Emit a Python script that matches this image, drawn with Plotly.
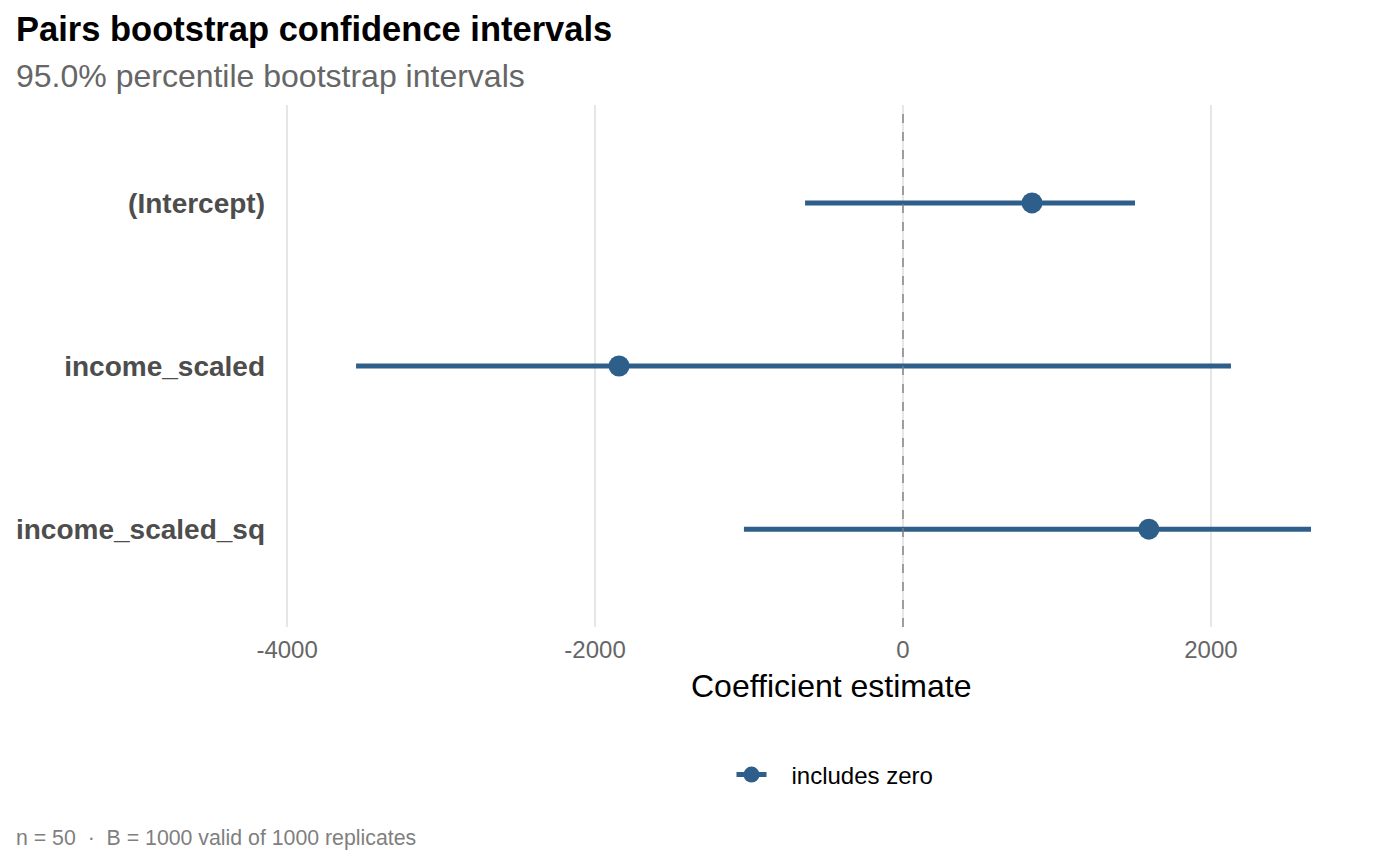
import plotly.graph_objects as go

# values
TERMS = ["(Intercept)", "income_scaled", "income_scaled_sq"]
ESTIMATE = [838, -1844, 1597]
CI_LOW = [-636, -3552, -1033]
CI_HIGH = [1507, 2130, 2650]
X_TICKS = [-4000, -2000, 0, 2000]

TITLE = "Pairs bootstrap confidence intervals"
SUBTITLE = "95.0% percentile bootstrap intervals"
CAPTION = "n = 50 \u00a0\u00b7\u00a0 B = 1000 valid of 1000 replicates"
LEGEND_LABEL = "\u00a0\u00a0\u00a0includes zero"

# some hard coded layout numbers (pixels in the 1400x866 picture)
# the page puts the figure 8 px in from the top left corner
OFF = 8
W, H = 1400, 866
PLOT_L, PLOT_R, PLOT_T, PLOT_B = 272 - OFF, 1382 - OFF, 105 - OFF, 627 - OFF
X_RANGE = [-4098, 3111]
COLOR = "#2E5E8A"
FONT = "Liberation Sans, Arial, sans-serif"


def px_x(px):
    return (px - OFF - PLOT_L) / (PLOT_R - PLOT_L)


def px_y(py):
    return (PLOT_B - (py - OFF)) / (PLOT_B - PLOT_T)


# segments of the intervals, separated with None
seg_x, seg_y = [], []
for term, lo, hi in zip(TERMS, CI_LOW, CI_HIGH):
    seg_x += [lo, hi, None]
    seg_y += [term, term, None]

fig = go.Figure()
fig.add_trace(go.Scatter(x=seg_x, y=seg_y, mode="lines", line=dict(color=COLOR, width=5),
                         showlegend=False, hoverinfo="skip"))
fig.add_trace(go.Scatter(x=ESTIMATE, y=TERMS, mode="markers", marker=dict(color=COLOR, size=21),
                         showlegend=False))
# legend entry only
fig.add_trace(go.Scatter(x=[None], y=[None], mode="lines+markers", name=LEGEND_LABEL,
                         line=dict(color=COLOR, width=5), marker=dict(color=COLOR, size=20)))

fig.add_vline(x=0, line=dict(color="#7F7F7F", width=1.4, dash="dash"))

fig.update_xaxes(range=X_RANGE, tickvals=X_TICKS, ticktext=[str(v) for v in X_TICKS],
                 showgrid=True, gridcolor="#E6E6E6", gridwidth=1.5, zeroline=False, showline=False,
                 ticks="", tickfont=dict(size=24, color="#666666"), ticklabelstandoff=6,
                 automargin=False)
fig.update_yaxes(type="category", categoryarray=TERMS, range=[2.6, -0.6], showgrid=False,
                 zeroline=False, showline=False, ticks="", ticklabelstandoff=6,
                 tickfont=dict(size=28, color="#4D4D4D", weight="bold"), automargin=False)

fig.update_layout(
    width=W, height=H,
    margin=dict(l=PLOT_L, r=W - PLOT_R, t=PLOT_T, b=H - PLOT_B),
    plot_bgcolor="white", paper_bgcolor="white",
    font=dict(family=FONT, color="black"),
    title=dict(text=f"<b>{TITLE}</b>", x=(16 - OFF) / W, xanchor="left", xref="container",
               y=1 - (29 - OFF) / H, yanchor="middle", yref="container",
               font=dict(size=34.5, color="black")),
    legend=dict(orientation="h", x=px_x(835), xanchor="center", y=px_y(775), yanchor="middle",
                font=dict(size=24, color="black"), bgcolor="rgba(0,0,0,0)"),
    annotations=[
        dict(text=SUBTITLE, x=px_x(14), y=px_y(76), xref="paper", yref="paper",
             xanchor="left", yanchor="middle", showarrow=False,
             font=dict(size=32, color="#666666")),
        dict(text="Coefficient estimate", x=px_x(831), y=px_y(686), xref="paper", yref="paper",
             xanchor="center", yanchor="middle", showarrow=False,
             font=dict(size=32, color="black")),
        dict(text=CAPTION, x=px_x(14), y=px_y(838), xref="paper", yref="paper",
             xanchor="left", yanchor="middle", showarrow=False,
             font=dict(size=21.3, color="#7F7F7F")),
    ],
)

fig.write_html("out.html")
